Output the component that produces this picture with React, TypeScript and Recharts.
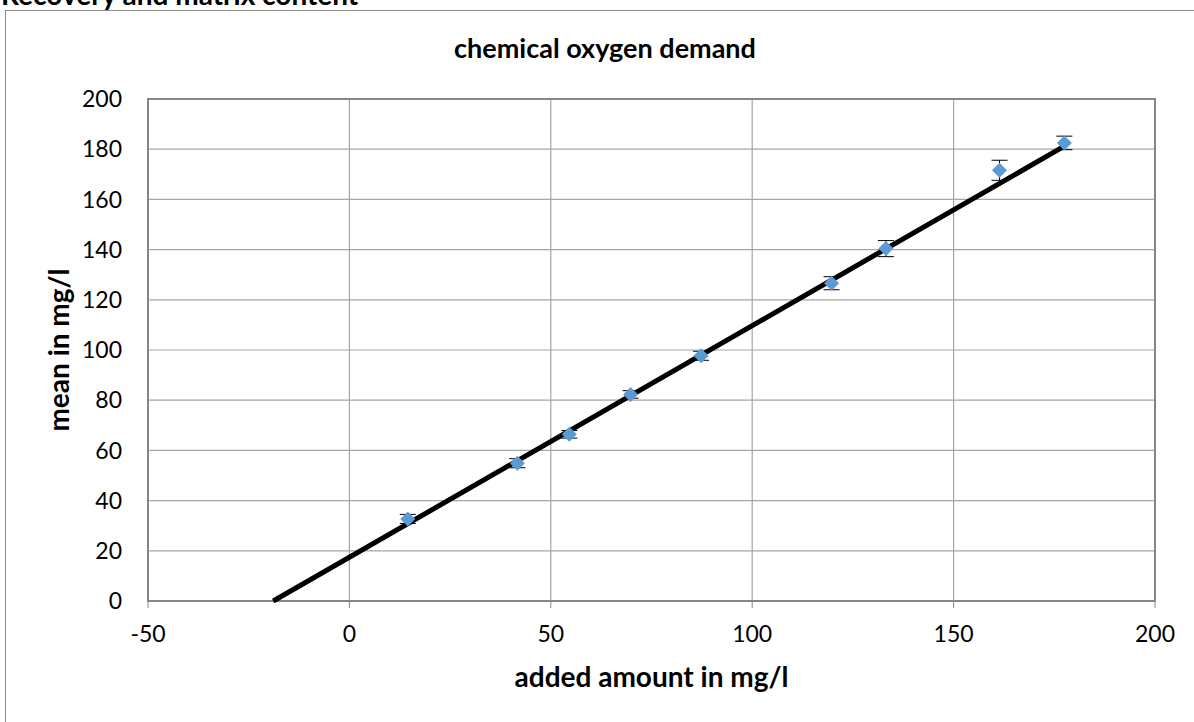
import {
  ErrorBar,
  Label,
  ReferenceArea,
  Scatter,
  ScatterChart,
  CartesianGrid,
  XAxis,
  YAxis,
} from "recharts";

// measured points: added amount (x), mean (y), error (±)
const added = [14.5, 41.7, 54.6, 69.8, 87.3, 119.7, 133.2, 161.4, 177.5];
const means = [32.7, 54.9, 66.4, 82.3, 97.7, 126.6, 140.4, 171.6, 182.5];
const errors = [1.8, 1.8, 1.5, 1.5, 1.8, 2.6, 3.2, 4, 2.7];

// linear trend line end points
const trendX = [-18.9, 177.5];
const trendY = [0, 181.2];

const xTicks = [-50, 0, 50, 100, 150, 200];
const yTicks = [0, 20, 40, 60, 80, 100, 120, 140, 160, 180, 200];

const points = added.map((x, i) => ({ x, y: means[i], err: errors[i] }));
const trend = trendX.map((x, i) => ({ x, y: trendY[i] }));

const font = "Lato, 'Open Sans', sans-serif";

function Diamond(props: any) {
  const { cx, cy } = props;
  const r = 7.5;
  return (
    <polygon
      points={`${cx},${cy - r} ${cx + r},${cy} ${cx},${cy + r} ${cx - r},${cy}`}
      fill="#5b9bd5"
    />
  );
}

export default function App() {
  return (
    <div
      style={{
        position: "absolute",
        left: 0,
        top: 0,
        width: 1194,
        height: 722,
        overflow: "hidden",
        background: "#fff",
        fontFamily: font,
      }}>
      <div
        style={{
          position: "absolute",
          left: 1,
          top: -20,
          fontSize: 28,
          lineHeight: "28px",
          fontWeight: 700,
          whiteSpace: "nowrap",
        }}>
        Recovery and matrix content
      </div>
      <div
        style={{
          position: "absolute",
          left: 5,
          top: 10,
          width: 1300,
          height: 800,
          border: "1.5px solid #8c8c8c",
        }}
      />
      <div
        style={{
          position: "absolute",
          left: 0,
          top: 34,
          width: 1210,
          textAlign: "center",
          fontSize: 27,
          lineHeight: "27px",
          fontWeight: 700,
        }}>
        chemical oxygen demand
      </div>
      <div style={{ position: "absolute", left: 0, top: 0 }}>
        <ScatterChart
          width={1194}
          height={722}
          margin={{ top: 99, right: 39, bottom: 21, left: 28 }}>
          <CartesianGrid stroke="#a6a6a6" strokeWidth={1.2} />
          <XAxis
            type="number"
            dataKey="x"
            domain={[-50, 200]}
            ticks={xTicks}
            height={100}
            axisLine={{ stroke: "#868686", strokeWidth: 2 }}
            tickLine={{ stroke: "#868686" }}
            tickSize={7}
            tickMargin={18}
            tick={{ fill: "#000", fontSize: 23, fontFamily: font }}>
            <Label
              value="added amount in mg/l"
              position="insideBottom"
              offset={14}
              style={{ fontSize: 28, fontWeight: 700, fill: "#000", fontFamily: font }}
            />
          </XAxis>
          <YAxis
            type="number"
            dataKey="y"
            domain={[0, 200]}
            ticks={yTicks}
            width={120}
            axisLine={{ stroke: "#868686", strokeWidth: 2 }}
            tickLine={false}
            tickSize={0}
            tickMargin={26}
            tick={{ fill: "#000", fontSize: 23, fontFamily: font }}>
            <Label
              value="mean in mg/l"
              angle={-90}
              position="insideLeft"
              offset={31}
              style={{
                fontSize: 28,
                fontWeight: 700,
                fill: "#000",
                fontFamily: font,
                textAnchor: "middle",
              }}
            />
          </YAxis>
          <ReferenceArea
            x1={-50}
            x2={200}
            y1={0}
            y2={200}
            fill="none"
            stroke="#868686"
            strokeWidth={2}
          />
          <Scatter
            data={trend}
            line={{ stroke: "#000", strokeWidth: 5 }}
            shape={() => null}
            isAnimationActive={false}
          />
          <Scatter data={points} shape={Diamond} isAnimationActive={false}>
            <ErrorBar
              dataKey="err"
              direction="y"
              width={8}
              stroke="#000"
              strokeWidth={1}
            />
          </Scatter>
        </ScatterChart>
      </div>
    </div>
  );
}
